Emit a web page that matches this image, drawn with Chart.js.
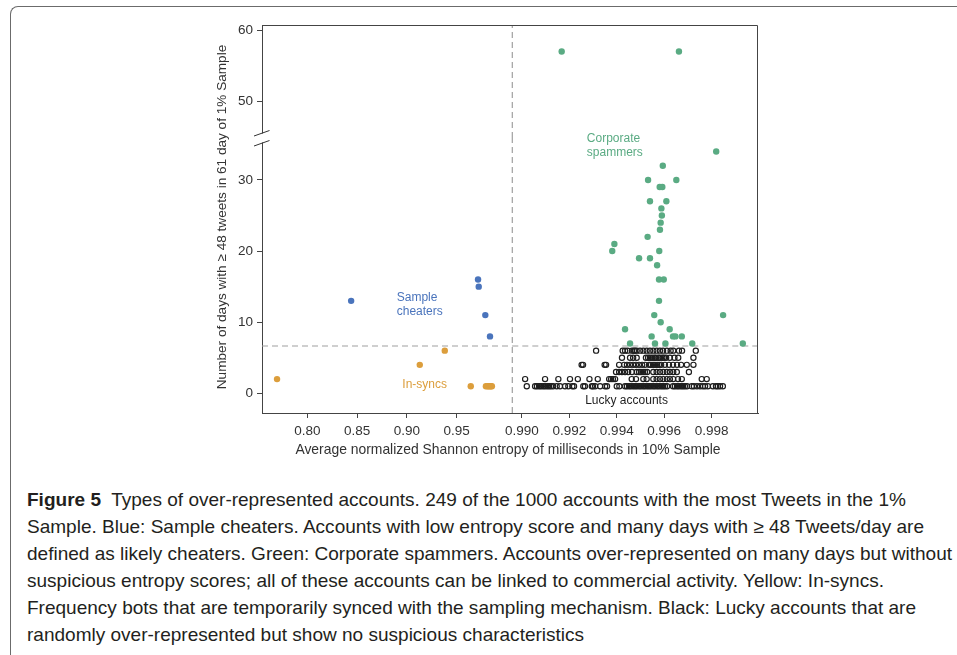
<!DOCTYPE html>
<html>
<head>
<meta charset="utf-8">
<script src="https://cdn.jsdelivr.net/npm/chart.js@4.4.1/dist/chart.umd.min.js"></script>
<style>
  html, body { margin: 0; padding: 0; background: #fff; width: 957px; height: 655px; overflow: hidden; }
  #frame { position: absolute; left: 10px; top: 6px; width: 1000px; height: 700px;
           border-top: 1.5px solid #6b6b6b; border-left: 1.5px solid #6b6b6b; border-top-left-radius: 8px; }
  #plot { position: absolute; left: 0; top: 0; width: 957px; height: 470px; }
  #caption { position: absolute; left: 27px; top: 488px; font-family: 'Liberation Sans', Arial, sans-serif;
             font-size: 18.5px; color: #231f20; }
  .ln { position: absolute; left: 0; white-space: nowrap; line-height: 20px; transform-origin: 0 50%; }
  .ln b { font-weight: 700; }
</style>
</head>
<body>
<div id="frame"></div>
<div id="plot"><canvas id="c" width="957" height="470" style="width:957px;height:470px"></canvas></div>
<div id="caption">
  <div class="ln"><b>Figure 5</b>&nbsp; Types of over-represented accounts. 249 of the 1000 accounts with the most Tweets in the 1%</div>
  <div class="ln">Sample. Blue: Sample cheaters. Accounts with low entropy score and many days with ≥ 48 Tweets/day are</div>
  <div class="ln">defined as likely cheaters. Green: Corporate spammers. Accounts over-represented on many days but without</div>
  <div class="ln">suspicious entropy scores; all of these accounts can be linked to commercial activity. Yellow: In-syncs.</div>
  <div class="ln">Frequency bots that are temporarily synced with the sampling mechanism. Black: Lucky accounts that are</div>
  <div class="ln">randomly over-represented but show no suspicious characteristics</div>
</div>
<script>
// ---- data: average normalized entropy (x) and days with >= 48 tweets (y) ----
const cheaterEntropy = [0.844, 0.9714, 0.9721, 0.9787, 0.9834];
const cheaterDays    = [13, 16, 15, 11, 8];

const insyncEntropy = [0.7696, 0.9129, 0.9380, 0.9641, 0.9793, 0.9808, 0.9820, 0.9832, 0.9843, 0.9853];
const insyncDays    = [2, 4, 6, 1, 1, 1, 1, 1, 1, 1];

const spammerEntropy = [
  0.99168, 0.99662,
  0.99819, 0.99594, 0.99532, 0.99651, 0.99581, 0.99592, 0.99540, 0.99609, 0.99588, 0.99590,
  0.99585, 0.99582, 0.99530, 0.99390,
  0.99381, 0.99579, 0.99494, 0.99540, 0.99570, 0.99578, 0.99598, 0.99578, 0.99558, 0.99848,
  0.99585, 0.99435, 0.99623, 0.99547, 0.99637, 0.99647, 0.99674,
  0.99456, 0.99561, 0.99605, 0.99718, 0.99931
];
const spammerDays = [
  57, 57,
  34, 32, 30, 30, 29, 29, 27, 27, 26, 25,
  24, 23, 22, 21,
  20, 20, 19, 19, 18, 16, 16, 13, 11, 11,
  10, 9, 9, 8, 8, 8, 8,
  7, 7, 7, 7, 7
];

// lucky accounts, grouped by their number of over-represented days
const luckyOneDay = [
  0.99021, 0.99056, 0.99064, 0.99073, 0.99081, 0.99090, 0.99098, 0.99107, 0.99115, 0.99123,
  0.99132, 0.99147, 0.99161, 0.99182, 0.99196, 0.99213, 0.99220, 0.99259, 0.99266, 0.99295,
  0.99300, 0.99309, 0.99330, 0.99351, 0.99359, 0.99400, 0.99411, 0.99435, 0.99443, 0.99452,
  0.99460, 0.99469, 0.99477, 0.99485, 0.99494, 0.99502, 0.99511, 0.99519, 0.99528, 0.99536,
  0.99544, 0.99553, 0.99561, 0.99570, 0.99578, 0.99587, 0.99595, 0.99603, 0.99612, 0.99637,
  0.99645, 0.99654, 0.99662, 0.99671, 0.99679, 0.99687, 0.99696, 0.99716, 0.99725, 0.99738,
  0.99751, 0.99763, 0.99772, 0.99784, 0.99805, 0.99818, 0.99826, 0.99835, 0.99847
];
const luckyTwoDays = [
  0.99014, 0.99098, 0.99154, 0.99203, 0.99236, 0.99285, 0.99320, 0.99368, 0.99376, 0.99384,
  0.99393, 0.99463, 0.99481, 0.99512, 0.99526, 0.99554, 0.99568, 0.99582, 0.99596, 0.99611,
  0.99624, 0.99638, 0.99658, 0.99674, 0.99758, 0.99779
];
const luckyThreeDays = [
  0.99397, 0.99410, 0.99422, 0.99435, 0.99448, 0.99464, 0.99484, 0.99494, 0.99502, 0.99511,
  0.99519, 0.99528, 0.99554, 0.99568, 0.99582, 0.99596, 0.99611, 0.99624, 0.99638, 0.99653,
  0.99704
];
const luckyFourDays = [
  0.99252, 0.99258, 0.99349, 0.99355, 0.99410, 0.99431, 0.99443, 0.99456, 0.99469, 0.99481,
  0.99494, 0.99507, 0.99519, 0.99536, 0.99544, 0.99553, 0.99561, 0.99570, 0.99578, 0.99587,
  0.99603, 0.99620, 0.99637, 0.99654, 0.99671, 0.99695, 0.99723
];
const luckyFiveDays = [
  0.99422, 0.99456, 0.99469, 0.99484, 0.99523, 0.99532, 0.99540, 0.99549, 0.99558, 0.99565,
  0.99575, 0.99582, 0.99592, 0.99599, 0.99608, 0.99624, 0.99643, 0.99659, 0.99723
];
const luckySixDays = [
  0.99313, 0.99425, 0.99435, 0.99446, 0.99464, 0.99472, 0.99477, 0.99484, 0.99498, 0.99512,
  0.99526, 0.99540, 0.99554, 0.99568, 0.99582, 0.99595, 0.99611, 0.99627, 0.99638, 0.99662,
  0.99675, 0.99733
];
const luckyRows = [luckyOneDay, luckyTwoDays, luckyThreeDays, luckyFourDays, luckyFiveDays, luckySixDays];

// thresholds separating the account types
const entropyCut = 0.9896;
const daysCut = 6.65;

// tick labels of the two-part axes
const lowEntropyTicks  = [0.80, 0.85, 0.90, 0.95];
const highEntropyTicks = [0.990, 0.992, 0.994, 0.996, 0.998];
const lowDayTicks  = [0, 10, 20, 30];
const highDayTicks = [50, 60];

// ---- styling ----
const BLUE = '#4a74bc', ORANGE = '#dc9e3c', GREEN = '#5aab83', INK = '#1e1e1e';
const AXIS = '#444444', TEXT = '#333333', DASH = '#a0a0a0';
const FONT = "'Liberation Sans', Arial, Helvetica, sans-serif";
Chart.defaults.font.family = FONT;

// axis ranges for the broken axes
const X_LOW  = {min: 0.7545, max: 1.0058};
const X_HIGH = {min: 0.9896, max: 0.99995};
const Y_LOW  = {min: -2.77, max: 35.9};
const Y_HIGH = {min: 44.94, max: 60.7};
const yBreak = 40;

const pts = (xs, ys) => xs.map((x, i) => ({x, y: ys[i]}));
const filled = (color) => ({backgroundColor: color, borderWidth: 0, pointRadius: 3.2, pointHoverRadius: 3.2});

const spamPts = pts(spammerEntropy, spammerDays);
const luckyPts = [];
luckyRows.forEach((row, i) => row.forEach(x => luckyPts.push({x, y: i + 1})));

const dashed = {type: 'line', showLine: true, pointRadius: 0, borderColor: DASH, borderWidth: 1.2,
                borderDash: [6, 4], fill: false, clip: false, order: 10};

const datasets = [
  Object.assign({label: 'Lucky accounts', xAxisID: 'xR', yAxisID: 'yBot', data: luckyPts,
    backgroundColor: 'rgba(0,0,0,0)', borderColor: INK, borderWidth: 1.2, pointRadius: 2.6}),
  Object.assign({label: 'Sample cheaters', xAxisID: 'xL', yAxisID: 'yBot', data: pts(cheaterEntropy, cheaterDays)}, filled(BLUE)),
  Object.assign({label: 'In-syncs', xAxisID: 'xL', yAxisID: 'yBot', data: pts(insyncEntropy, insyncDays)}, filled(ORANGE)),
  Object.assign({label: 'Corporate spammers', xAxisID: 'xR', yAxisID: 'yBot', data: spamPts.filter(p => p.y < yBreak)}, filled(GREEN)),
  Object.assign({label: 'Corporate spammers (upper)', xAxisID: 'xR', yAxisID: 'yTop', data: spamPts.filter(p => p.y >= yBreak)}, filled(GREEN)),
  Object.assign({label: 'days cut L', xAxisID: 'xL', yAxisID: 'yBot',
    data: [{x: X_LOW.min, y: daysCut}, {x: X_LOW.max, y: daysCut}]}, dashed),
  Object.assign({label: 'days cut R', xAxisID: 'xR', yAxisID: 'yBot',
    data: [{x: X_HIGH.min, y: daysCut}, {x: X_HIGH.max, y: daysCut}]}, dashed),
  Object.assign({label: 'entropy cut low', xAxisID: 'xR', yAxisID: 'yBot',
    data: [{x: entropyCut, y: Y_LOW.min}, {x: entropyCut, y: Y_LOW.max}]}, dashed),
  Object.assign({label: 'entropy cut high', xAxisID: 'xR', yAxisID: 'yTop',
    data: [{x: entropyCut, y: Y_HIGH.min}, {x: entropyCut, y: Y_HIGH.max}]}, dashed)
];

const tickFont = {size: 13.5, family: FONT};
const axisCommon = (extra) => Object.assign({
  type: 'linear',
  grid: {display: true, drawOnChartArea: false, drawTicks: true, tickLength: 5, tickColor: AXIS, tickWidth: 1},
  border: {display: true, color: AXIS, width: 1}
}, extra);

const fixedTicks = (vals) => (scale) => { scale.ticks = vals.map(v => ({value: v})); };

const scales = {
  xL: axisCommon({position: 'bottom', stack: 'ex', stackWeight: 250.3, weight: 0,
    min: X_LOW.min, max: X_LOW.max,
    afterBuildTicks: fixedTicks(lowEntropyTicks),
    afterFit: (s) => { s.height = 57; },
    ticks: {autoSkip: false, maxRotation: 0, padding: 5, color: TEXT, font: tickFont, callback: (v) => Number(v).toFixed(2)}}),
  xR: axisCommon({position: 'bottom', stack: 'ex', stackWeight: 245.7, weight: 1,
    min: X_HIGH.min, max: X_HIGH.max,
    afterBuildTicks: fixedTicks(highEntropyTicks),
    afterFit: (s) => { s.height = 57; },
    ticks: {autoSkip: false, maxRotation: 0, padding: 5, color: TEXT, font: tickFont, callback: (v) => Number(v).toFixed(3)}}),
  yBot: axisCommon({position: 'left', stack: 'why', stackWeight: 275, weight: 0,
    min: Y_LOW.min, max: Y_LOW.max,
    afterBuildTicks: fixedTicks(lowDayTicks),
    afterFit: (s) => { s.width = 62; },
    ticks: {autoSkip: false, padding: 4, color: TEXT, font: tickFont}}),
  yTop: axisCommon({position: 'left', stack: 'why', stackWeight: 113, weight: 1,
    min: Y_HIGH.min, max: Y_HIGH.max,
    afterBuildTicks: fixedTicks(highDayTicks),
    afterFit: (s) => { s.width = 62; },
    ticks: {autoSkip: false, padding: 4, color: TEXT, font: tickFont}})
};

// group labels placed in data coordinates
const groupLabels = [
  {lines: ['Corporate', 'spammers'], color: GREEN, xs: 'xR', x: 0.99274, ys: 'yBot', y: [35.8, 33.8]},
  {lines: ['Sample', 'cheaters'], color: BLUE, xs: 'xL', x: 0.8898, ys: 'yBot', y: [13.5, 11.5]},
  {lines: ['In-syncs'], color: ORANGE, xs: 'xL', x: 0.8954, ys: 'yBot', y: [1.15]},
  {lines: ['Lucky accounts'], color: INK, xs: 'xR', x: 0.99267, ys: 'yBot', y: [-1.05]}
];

const decorations = {
  id: 'decorations',
  afterDraw(chart) {
    const {ctx, chartArea: a, scales: s} = chart;
    ctx.save();
    // frame on the top and right of the plotting area
    ctx.strokeStyle = AXIS; ctx.lineWidth = 1;
    ctx.beginPath();
    ctx.moveTo(a.left, a.top + 0.5);
    ctx.lineTo(a.right - 0.5, a.top + 0.5);
    ctx.lineTo(a.right - 0.5, a.bottom);
    ctx.stroke();

    // break marks on the day axis
    const yb = s.yBot.top;
    const x0 = s.yBot.right;
    ctx.fillStyle = '#fff';
    ctx.fillRect(x0 - 2, yb - 4.5, 4, 9);
    ctx.strokeStyle = '#333'; ctx.lineWidth = 1;
    ctx.beginPath();
    ctx.moveTo(x0 - 8, yb - 2); ctx.lineTo(x0 + 7.5, yb - 7.5);
    ctx.moveTo(x0 - 8, yb + 8); ctx.lineTo(x0 + 7.5, yb + 2.5);
    ctx.stroke();

    // group labels
    ctx.font = '12px ' + FONT;
    ctx.textAlign = 'left'; ctx.textBaseline = 'middle';
    groupLabels.forEach(g => {
      ctx.fillStyle = g.color;
      const px = s[g.xs].getPixelForValue(g.x);
      g.lines.forEach((t, i) => ctx.fillText(t, px, s[g.ys].getPixelForValue(g.y[i])));
    });

    // axis titles
    ctx.fillStyle = TEXT;
    ctx.font = '13.9px ' + FONT;
    ctx.textAlign = 'center';
    ctx.fillText('Average normalized Shannon entropy of milliseconds in 10% Sample', (a.left + a.right) / 2 - 2, 450);
    ctx.font = '13.6px ' + FONT;
    ctx.translate(222, (a.top + a.bottom) / 2 - 2);
    ctx.rotate(-Math.PI / 2);
    ctx.fillText('Number of days with ≥ 48 tweets in 61 day of 1% Sample', 0, 0);
    ctx.restore();
  }
};

new Chart(document.getElementById('c'), {
  type: 'scatter',
  data: {datasets},
  options: {
    responsive: false,
    animation: false,
    events: [],
    layout: {padding: {left: 200, right: 199, top: 25, bottom: 0}},
    plugins: {legend: {display: false}, tooltip: {enabled: false}},
    scales
  },
  plugins: [decorations]
});

// caption lines: uniform horizontal condensing so the longest line spans the text block
(function () {
  const lines = document.querySelectorAll('#caption .ln');
  let widest = 0;
  lines.forEach(l => { widest = Math.max(widest, l.getBoundingClientRect().width); });
  const k = 925 / widest;
  lines.forEach((l, i) => {
    l.style.top = (i * 27 + 2) + 'px';
    l.style.transform = 'scaleX(' + k + ')';
  });
})();
</script>
</body>
</html>
